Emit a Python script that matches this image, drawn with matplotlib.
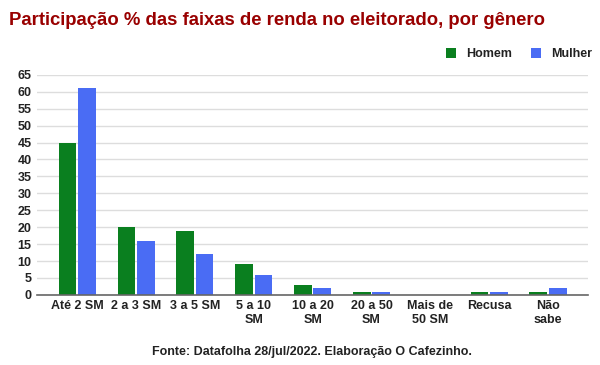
import matplotlib.pyplot as plt
import numpy as np

plt.rcParams['font.family'] = ['Liberation Sans', 'DejaVu Sans']

# Data
categories = ["Até 2 SM", "2 a 3 SM", "3 a 5 SM", "5 a 10\nSM", "10 a 20\nSM",
              "20 a 50\nSM", "Mais de\n50 SM", "Recusa", "Não\nsabe"]
homem = [45, 20, 19, 9, 3, 1, 0, 1, 1]
mulher = [61, 16, 12, 6, 2, 1, 0, 1, 2]

green = '#0a7f1f'
blue = '#4a6cf4'

fig = plt.figure(figsize=(6, 3.65), dpi=100)
ax = fig.add_axes([0.062, 0.192, 0.918, 0.603])

x = np.arange(len(categories))
w = 0.30
ax.bar(x - w / 2 - 0.015, homem, width=w, color=green, label='Homem', zorder=3)
ax.bar(x + w / 2 + 0.015, mulher, width=w, color=blue, label='Mulher', zorder=3)

ax.set_xlim(-0.68, 8.68)
ax.set_ylim(0, 65)
ax.set_yticks(range(0, 66, 5))
ax.set_xticks(x)
ax.set_xticklabels(categories, fontsize=9, fontweight='bold', color='#222222', linespacing=1.15)
for lbl in ax.get_yticklabels():
    lbl.set_fontsize(9)
    lbl.set_fontweight('bold')
    lbl.set_color('#222222')

ax.grid(axis='y', color='#dddddd', linewidth=1, zorder=0)
for s in ['top', 'right', 'left']:
    ax.spines[s].set_visible(False)
ax.spines['bottom'].set_color('#666666')
ax.spines['bottom'].set_linewidth(1.2)
ax.spines['bottom'].set_zorder(4)
ax.tick_params(axis='both', length=0, pad=4)

fig.text(0.015, 0.945, "Participação % das faixas de renda no eleitorado, por gênero",
         fontsize=13.3, fontweight='bold', color='#990000', va='center')

leg = fig.legend(loc='center right', bbox_to_anchor=(1.005, 0.852), ncol=2, frameon=False,
                 prop={'size': 9, 'weight': 'bold'}, handlelength=0.8, handleheight=0.8,
                 columnspacing=1.5, handletextpad=0.8)
for t in leg.get_texts():
    t.set_color('#222222')

fig.text(0.52, 0.036, "Fonte: Datafolha 28/jul/2022. Elaboração O Cafezinho.",
         fontsize=9, fontweight='bold', color='#222222', ha='center', va='center')

fig.savefig('out.png', dpi=100, facecolor='white')
